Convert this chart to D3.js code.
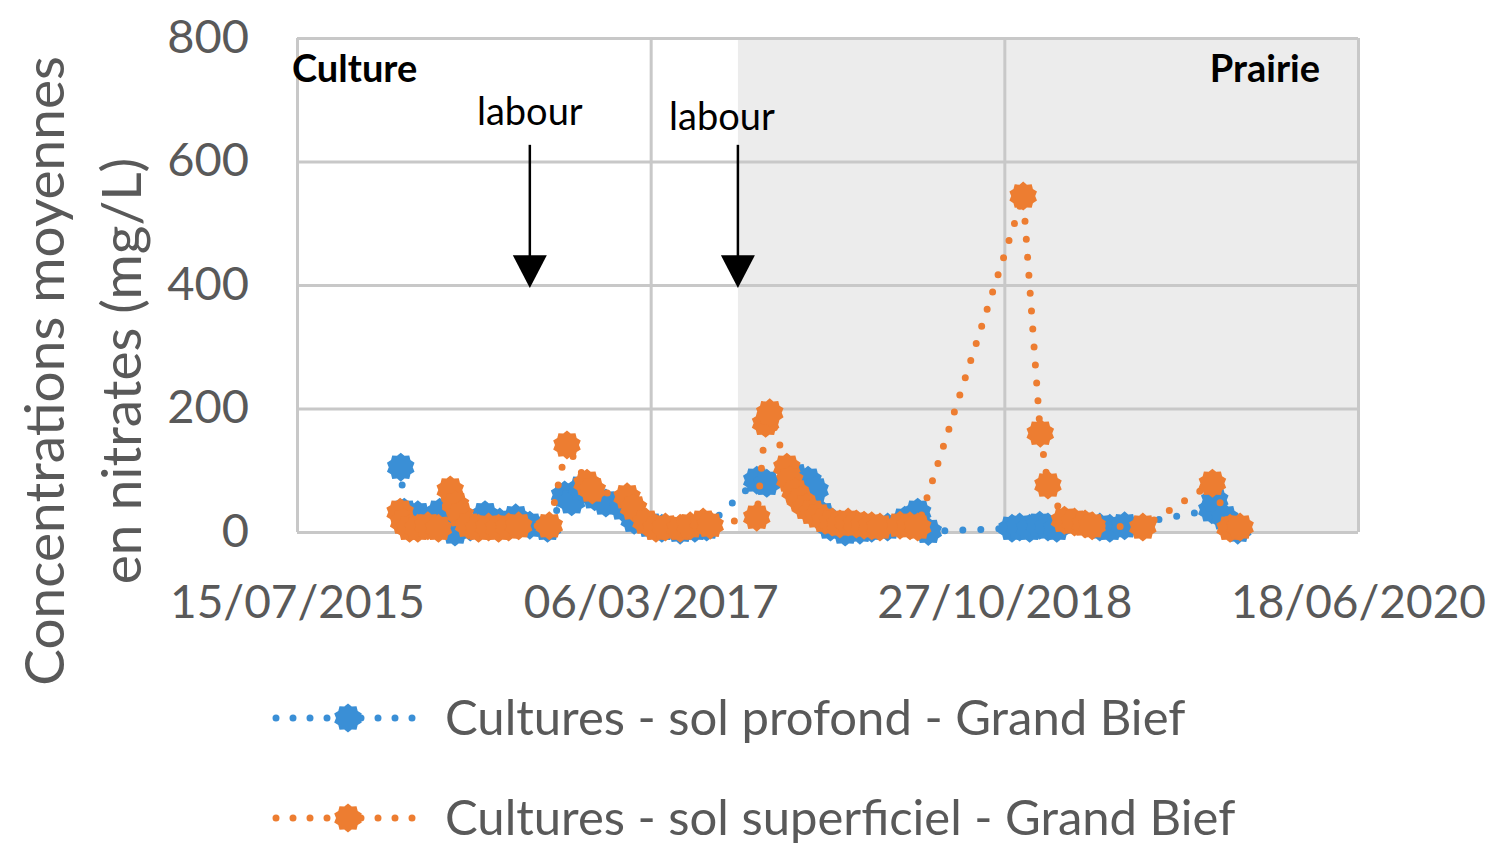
<!DOCTYPE html>
<meta charset="utf-8">
<script src="https://d3js.org/d3.v7.min.js"></script>
<title>Nitrates Grand Bief</title>
<style>
body { margin: 0; background: #fff; font-family: Lato, "Open Sans", sans-serif; }
.grid line { stroke: #c8c8c8; stroke-width: 3px; }
.tick text { fill: #595959; }
</style>
<body>
<svg id="chart" width="1495" height="857"></svg>
<script>

// values (mg/L)
var profond = [
  ["07/01/2016",105],["13/01/2016",32],["05/02/2016",28],["25/02/2016",19],["13/03/2016",32],
  ["03/04/2016",19],["08/04/2016",0],["04/05/2016",8],["29/05/2016",28],["23/06/2016",16],
  ["20/07/2016",23],["13/08/2016",11],["12/09/2016",6],["11/10/2016",60],["23/10/2016",49],
  ["09/11/2016",71],["01/12/2016",57],["20/12/2016",47],["18/01/2017",39],["06/02/2017",19],
  ["05/03/2017",11],["25/03/2017",6],["25/04/2017",3],["20/05/2017",6],["09/06/2017",8],
  ["02/09/2017",84],["19/09/2017",79],["06/11/2017",91],["28/11/2017",84],["10/12/2017",68],
  ["22/12/2017",28],["05/01/2018",8],["30/01/2018",0],["24/02/2018",3],["16/03/2018",6],
  ["12/04/2018",8],["11/05/2018",19],["02/06/2018",32],["20/06/2018",1],["09/11/2018",6],
  ["22/11/2018",8],["09/12/2018",6],["26/12/2018",11],["09/01/2019",8],["24/01/2019",6],
  ["07/04/2019",8],["24/04/2019",6],["19/05/2019",10],["14/10/2019",36],["19/10/2019",52],
  ["05/11/2019",23],["27/11/2019",3]
];

var superficiel = [
  ["06/01/2016",32],["12/01/2016",16],["22/01/2016",6],["05/02/2016",6],["22/02/2016",10],
  ["11/03/2016",6],["31/03/2016",68],["09/04/2016",44],["17/04/2016",28],["01/05/2016",11],
  ["18/05/2016",6],["04/06/2016",8],["21/06/2016",6],["08/07/2016",8],["25/07/2016",10],
  ["15/09/2016",10],["15/10/2016",141],["18/11/2016",79],["27/11/2016",68],["25/01/2017",57],
  ["05/02/2017",39],["26/02/2017",16],["15/03/2017",6],["31/03/2017",8],["25/04/2017",6],
  ["12/05/2017",10],["03/06/2017",16],["15/06/2017",11],["02/09/2017",24],["17/09/2017",176],
  ["24/09/2017",193],["23/10/2017",105],["28/10/2017",84],["06/11/2017",65],["15/11/2017",52],
  ["25/11/2017",40],["05/12/2017",32],["15/12/2017",26],["27/12/2017",19],["08/01/2018",16],
  ["21/01/2018",13],["04/02/2018",16],["18/02/2018",13],["03/03/2018",11],["16/03/2018",10],
  ["30/03/2018",8],["03/05/2018",11],["20/05/2018",10],["02/06/2018",8],["28/11/2018",544],
  ["27/12/2018",160],["09/01/2019",76],["06/02/2019",19],["23/02/2019",16],["13/03/2019",13],
  ["25/03/2019",10],["19/06/2019",8],["15/10/2019",79],["14/11/2019",6],["01/12/2019",8]
];

var xTicks = ["15/07/2015", "06/03/2017", "27/10/2018", "18/06/2020"];
var yTicks = [0, 200, 400, 600, 800];
var prairieStart = "01/08/2017";
var labourDates = ["13/08/2016", "01/08/2017"];
var seriesNames = ["Cultures - sol profond - Grand Bief", "Cultures - sol superficiel - Grand Bief"];
var seriesColors = ["#3a8fd6", "#ed7d31"];

var parse = d3.timeParse("%d/%m/%Y"),
    fmt = d3.timeFormat("%d/%m/%Y");

var svg = d3.select("#chart"),
    margin = {top: 38, right: 137, bottom: 325, left: 297},
    width = +svg.attr("width") - margin.left - margin.right,
    height = +svg.attr("height") - margin.top - margin.bottom;

var x = d3.scaleTime()
    .domain([parse(xTicks[0]), parse(xTicks[xTicks.length - 1])])
    .range([0, width]);
var y = d3.scaleLinear()
    .domain([0, 800])
    .range([height, 0]);

var g = svg.append("g")
    .attr("transform", "translate(" + margin.left + "," + margin.top + ")");

// prairie period shading
g.append("rect")
    .attr("x", x(parse(prairieStart)))
    .attr("y", 0)
    .attr("width", width - x(parse(prairieStart)))
    .attr("height", height)
    .attr("fill", "#ececec");

// grid
g.append("g")
    .attr("class", "grid")
    .call(d3.axisLeft(y).tickValues(yTicks).tickSize(-width).tickFormat(""))
    .call(function(s) { s.select(".domain").remove(); });
g.append("g")
    .attr("class", "grid")
    .attr("transform", "translate(0," + height + ")")
    .call(d3.axisBottom(x).tickValues(xTicks.map(parse)).tickSize(-height).tickFormat(""))
    .call(function(s) { s.select(".domain").remove(); });

// tick labels
g.append("g")
    .attr("transform", "translate(-45,0)")
    .call(d3.axisLeft(y).tickValues(yTicks).tickSize(0))
    .call(function(s) {
      s.select(".domain").remove();
      s.selectAll("text").attr("font-size", "47px").attr("font-family", "Lato").attr("dy", "0.3em");
    });
g.append("g")
    .attr("transform", "translate(0," + (height + 50) + ")")
    .call(d3.axisBottom(x).tickValues(xTicks.map(parse)).tickSize(0).tickFormat(fmt))
    .call(function(s) {
      s.select(".domain").remove();
      s.selectAll("text").attr("font-size", "46px").attr("font-family", "Lato");
    });

// y axis title
var yt = svg.append("text")
    .attr("transform", "translate(45,371) rotate(-90)")
    .attr("text-anchor", "middle")
    .attr("fill", "#595959")
    .attr("font-size", "55px");
yt.append("tspan").attr("x", 0).attr("dy", "0.35em").text("Concentrations moyennes");
yt.append("tspan").attr("x", 0).attr("dy", 77).text("en nitrates (mg/L)");

// marker shape
function burst(r1, r2, n) {
  var pts = [];
  for (var i = 0; i < n * 2; i++) {
    var a = Math.PI * i / n, r = i % 2 ? r2 : r1;
    pts.push([r * Math.sin(a), -r * Math.cos(a)]);
  }
  return "M" + pts.join("L") + "Z";
}
var markerPath = burst(14.5, 12, 10);

var line = d3.line()
    .x(function(d) { return x(parse(d[0])); })
    .y(function(d) { return y(d[1]); });

[profond, superficiel].forEach(function(data, i) {
  g.append("path")
      .datum(data)
      .attr("d", line)
      .attr("fill", "none")
      .attr("stroke", seriesColors[i])
      .attr("stroke-width", 7)
      .attr("stroke-linecap", "round")
      .attr("stroke-dasharray", "0 18");
  g.selectAll(".m" + i)
      .data(data)
    .enter().append("path")
      .attr("class", "m" + i)
      .attr("d", markerPath)
      .attr("transform", function(d) { return "translate(" + x(parse(d[0])) + "," + y(d[1]) + ")"; })
      .attr("fill", seriesColors[i]);
});

// annotations
g.append("text")
    .attr("x", -5).attr("y", 44)
    .attr("font-size", "38px").attr("font-weight", "bold").attr("fill", "#000")
    .text("Culture");
g.append("text")
    .attr("x", width - 38).attr("y", 44)
    .attr("text-anchor", "end")
    .attr("font-size", "38px").attr("font-weight", "bold").attr("fill", "#000")
    .text("Prairie");

var labelDx = [0, -16], labelY = [87, 92];
labourDates.forEach(function(d, i) {
  var ax = x(parse(d));
  g.append("line")
      .attr("x1", ax).attr("x2", ax)
      .attr("y1", y(627)).attr("y2", y(440))
      .attr("stroke", "#000").attr("stroke-width", 2.5);
  g.append("path")
      .attr("d", "M" + (ax - 17) + "," + y(448) + "L" + (ax + 17) + "," + y(448) + "L" + ax + "," + y(395) + "Z")
      .attr("fill", "#000");
  g.append("text")
      .attr("x", ax + labelDx[i]).attr("y", labelY[i])
      .attr("text-anchor", "middle")
      .attr("font-size", "38px").attr("fill", "#000")
      .text("labour");
});

// legend
var legend = svg.append("g");
seriesNames.forEach(function(name, i) {
  var ly = 718 + i * 100;
  legend.append("line")
      .attr("x1", 276).attr("x2", 424)
      .attr("y1", ly).attr("y2", ly)
      .attr("stroke", seriesColors[i])
      .attr("stroke-width", 7)
      .attr("stroke-linecap", "round")
      .attr("stroke-dasharray", "0 17");
  legend.append("path")
      .attr("d", markerPath)
      .attr("transform", "translate(348," + ly + ")")
      .attr("fill", seriesColors[i]);
  legend.append("text")
      .attr("x", 445).attr("y", ly)
      .attr("dy", "0.35em")
      .attr("font-size", "49px").attr("fill", "#595959")
      .text(name);
});

</script>
</body>
